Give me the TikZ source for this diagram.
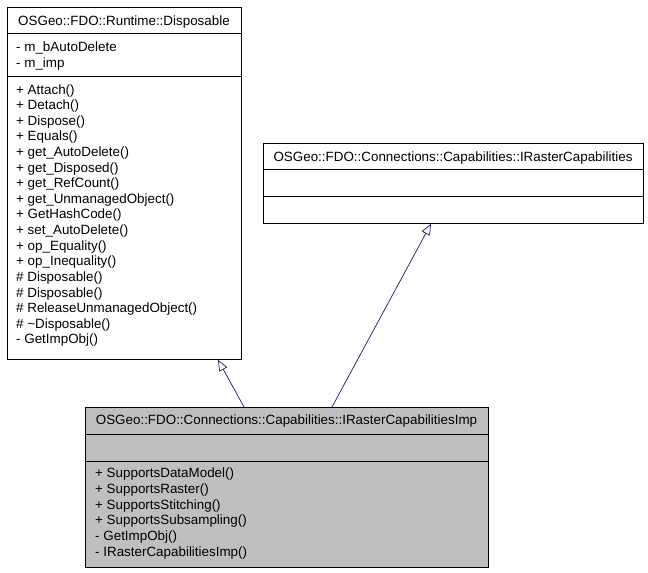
\documentclass[tikz,border=0pt]{standalone}
\usepackage{fontspec}
\setmainfont{Liberation Sans}
\usetikzlibrary{arrows.meta,calc}
\definecolor{edgeblue}{HTML}{191970}
\definecolor{implgray}{HTML}{BFBFBF}
\tikzset{
  classbox/.style={draw=black, line width=0.8pt, inner sep=0pt, anchor=north west},
  divider/.style={draw=black, line width=0.8pt},
  member/.style={anchor=base west, inner sep=0pt, font=\fontsize{13.4}{15.6}\selectfont},
  title/.style={anchor=base, inner sep=0pt, font=\fontsize{13.4}{15.6}\selectfont},
  inherit/.style={draw=edgeblue, line width=0.7pt, -{Triangle[open, length=11pt, width=9pt, fill=white]}},
}
\begin{document}
\begin{tikzpicture}[x=1pt, y=-1pt]
\useasboundingbox (0,0) rectangle (648,573);
% Disposable
\node[classbox, minimum width=234pt, minimum height=352pt] (disp) at (7,7) {};
\draw[divider] (7,33) -- (241,33);
\draw[divider] (7,76) -- (241,76);
\node[title] (dispT) at (124,25) {OSGeo::FDO::Runtime::Disposable};
\node[member] (dA1) at (16,51.5) {- m\_bAutoDelete};
\node[member] (dA2) at (16,67) {- m\_imp};
\foreach \t [count=\i from 0] in {+ Attach(), + Detach(), + Dispose(), + Equals(), + get\_AutoDelete(), + get\_Disposed(), + get\_RefCount(), + get\_UnmanagedObject(), + GetHashCode(), + set\_AutoDelete(), + op\_Equality(), + op\_Inequality(), \# Disposable(), \# Disposable(), \# ReleaseUnmanagedObject(), \# \textasciitilde Disposable(), - GetImpObj()}
  \node[member] (dM\i) at (16,{94+15.62*\i}) {\t};
% IRasterCapabilities
\node[classbox, minimum width=380pt, minimum height=80pt] (irc) at (263,143) {};
\draw[divider] (263,169) -- (643,169);
\draw[divider] (263,196) -- (643,196);
\node[title] (ircT) at (453,161) {OSGeo::FDO::Connections::Capabilities::IRasterCapabilities};
% IRasterCapabilitiesImp
\node[classbox, fill=implgray, minimum width=403pt, minimum height=160pt] (imp) at (85,407) {};
\draw[divider] (85,434) -- (488,434);
\draw[divider] (85,461) -- (488,461);
\node[title] (impT) at (286.5,424) {OSGeo::FDO::Connections::Capabilities::IRasterCapabilitiesImp};
\foreach \t [count=\i from 0] in {+ SupportsDataModel(), + SupportsRaster(), + SupportsStitching(), + SupportsSubsampling(), - GetImpObj(), - IRasterCapabilitiesImp()}
  \node[member] (iM\i) at (95,{477.5+15.8*\i}) {\t};
% inheritance
\coordinate (impL) at ($(imp.north west)+(159,0)$);
\coordinate (impR) at ($(imp.north west)+(247,0)$);
\coordinate (dispB) at ($(disp.south west)+(211,0)$);
\coordinate (ircB) at ($(irc.south west)+(168,0)$);
\draw[inherit] (impL) -- (dispB);
\draw[inherit] (impR) -- (ircB);
\end{tikzpicture}
\end{document}
